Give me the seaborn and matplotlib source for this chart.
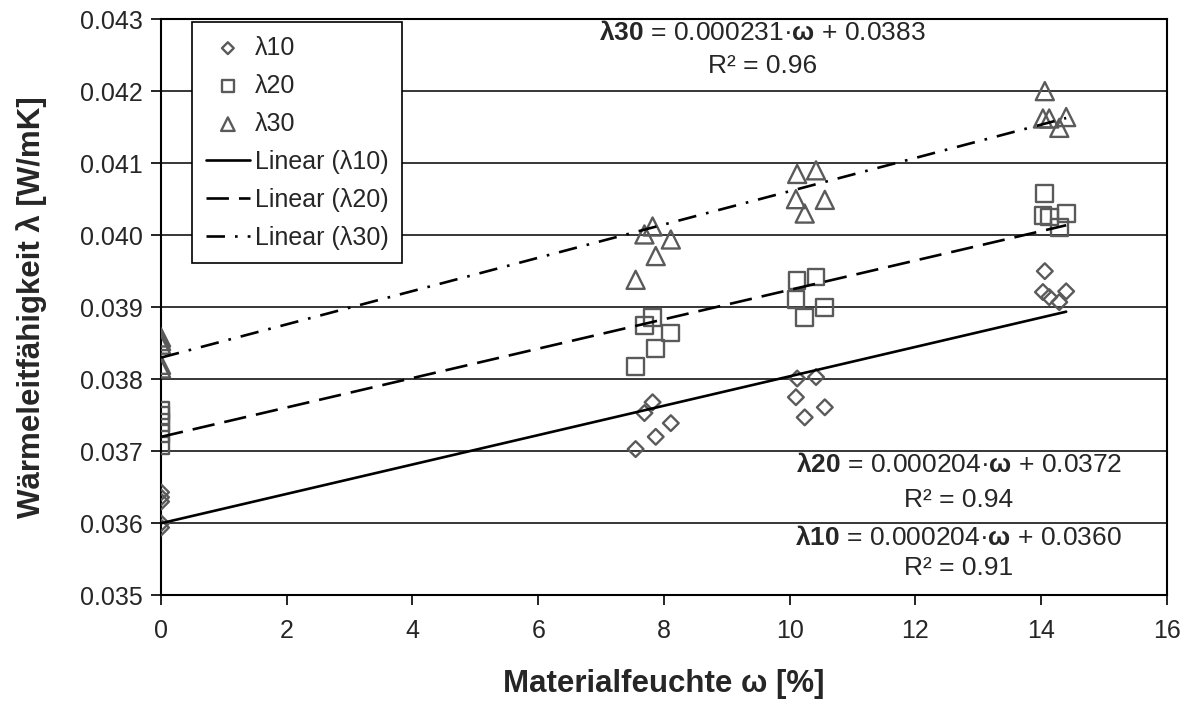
import numpy as np
import pandas as pd
import matplotlib
matplotlib.use("Agg")
import matplotlib.pyplot as plt
import seaborn as sns

# ---------------- data ----------------
omega = [0, 0, 0, 0, 0,
         7.55, 7.69, 7.82, 7.87, 8.11,
         10.10, 10.12, 10.24, 10.42, 10.56,
         14.03, 14.06, 14.13, 14.29, 14.40]

lam10 = [0.03643, 0.03636, 0.03630, 0.03600, 0.03594,
         0.03703, 0.03753, 0.03768, 0.03720, 0.03739,
         0.03775, 0.03801, 0.03747, 0.03803, 0.03761,
         0.03921, 0.03950, 0.03914, 0.03907, 0.03922]

lam20 = [0.03757, 0.03750, 0.03740, 0.03725, 0.03708,
         0.03818, 0.03875, 0.03886, 0.03843, 0.03864,
         0.03911, 0.03937, 0.03886, 0.03942, 0.03900,
         0.04027, 0.04058, 0.04025, 0.04011, 0.04030]

lam30 = [0.03858, 0.03853, 0.03848, 0.03820, 0.03815,
         0.03938, 0.04001, 0.04012, 0.03971, 0.03994,
         0.04050, 0.04085, 0.04030, 0.04090, 0.04049,
         0.04162, 0.04200, 0.04162, 0.04149, 0.04164]

series_names = ["λ10", "λ20", "λ30"]
slopes = [0.000204, 0.000204, 0.000231]
intercepts = [0.0360, 0.0372, 0.0383]
r2 = [0.91, 0.94, 0.96]
coef_text = ["0.000204", "0.000204", "0.000231"]
int_text = ["0.0360", "0.0372", "0.0383"]

x_ticks = [0, 2, 4, 6, 8, 10, 12, 14, 16]
y_ticks = [0.035, 0.036, 0.037, 0.038, 0.039, 0.040, 0.041, 0.042, 0.043]

# ---------------- style ----------------
sns.set_style("white")
plt.rcParams["font.family"] = ["Liberation Sans", "DejaVu Sans"]
plt.rcParams["mathtext.fontset"] = "custom"
plt.rcParams["mathtext.rm"] = "Liberation Sans"
plt.rcParams["mathtext.bf"] = "Liberation Sans:bold"
plt.rcParams["mathtext.it"] = "Liberation Sans:italic"

fig = plt.figure(figsize=(11.93, 7.07), dpi=100)
ax = fig.add_axes([0.135, 0.158, 0.843, 0.815])

markers = ["D", "s", "^"]
msizes = [8.0 ** 2, 12.0 ** 2, 13.0 ** 2]
edge = "#5a5a5a"

df = pd.DataFrame({"omega": omega, "λ10": lam10, "λ20": lam20, "λ30": lam30})

for name, mk, s in zip(series_names, markers, msizes):
    sns.scatterplot(data=df, x="omega", y=name, marker=mk, s=s,
                    facecolors="none", edgecolor=edge, linewidth=1.7,
                    label=name, ax=ax, zorder=3)

lw = 1.9
styles = [None, (0, (8.5, 3.8)), (0, (7.0, 3.8, 1.0, 3.8))]
xmax = max(omega)
for name, m, b, ls in zip(series_names, slopes, intercepts, styles):
    xs = np.array([0.0, xmax])
    sns.lineplot(x=xs, y=m * xs + b, color="black", lw=lw,
                 label=f"Linear ({name})", ax=ax, zorder=4)
    if ls is not None:
        ax.lines[-1].set_linestyle(ls)

# ---------------- axes ----------------
ax.set_xlim(0, 16)
ax.set_ylim(0.035, 0.043)
ax.set_xticks(x_ticks)
ax.set_yticks(y_ticks)
ax.set_xticklabels([str(v) for v in x_ticks])
ax.set_yticklabels([f"{v:.3f}" for v in y_ticks])
ax.tick_params(axis="both", labelsize=18, direction="out", length=7,
               width=1.2, color="black", bottom=True, left=True)
ax.tick_params(axis="x", pad=10)
ax.tick_params(axis="y", pad=6)
ax.yaxis.grid(True, color="black", lw=1.1)
ax.xaxis.grid(False)
ax.set_axisbelow(True)
for sp in ax.spines.values():
    sp.set_visible(True)
    sp.set_color("black")
    sp.set_linewidth(1.5)

ax.set_xlabel("Materialfeuchte ω [%]", fontsize=22.5, fontweight="bold", labelpad=19)
ax.set_ylabel("Wärmeleitfähigkeit λ [W/mK]", fontsize=22.5, fontweight="bold", labelpad=24)

# ---------------- annotations ----------------
ann_pos = [(0.793, 0.099, 0.047), (0.793, 0.226, 0.166), (0.598, 0.976, 0.918)]
for i, (xa, y1, y2) in enumerate(ann_pos):
    ax.text(xa, y1, rf"$\mathbf{{{series_names[i]}}}$ = {coef_text[i]}·$\mathbf{{ω}}$ + {int_text[i]}",
            transform=ax.transAxes, ha="center", va="center", fontsize=19, zorder=5)
    ax.text(xa, y2, f"R² = {r2[i]:.2f}", transform=ax.transAxes,
            ha="center", va="center", fontsize=19, zorder=5)

# ---------------- legend ----------------
h, l = ax.get_legend_handles_labels()
leg = ax.legend(h, l, loc="upper left", bbox_to_anchor=(0.031, 0.995),
                fontsize=18, frameon=True, fancybox=False, edgecolor="black",
                framealpha=1, handlelength=1.75, handletextpad=0.2,
                labelspacing=0.56, borderpad=0.55, borderaxespad=0,
                markerscale=0.75)
leg.get_frame().set_linewidth(1.2)

fig.savefig("out.png", dpi=100)
